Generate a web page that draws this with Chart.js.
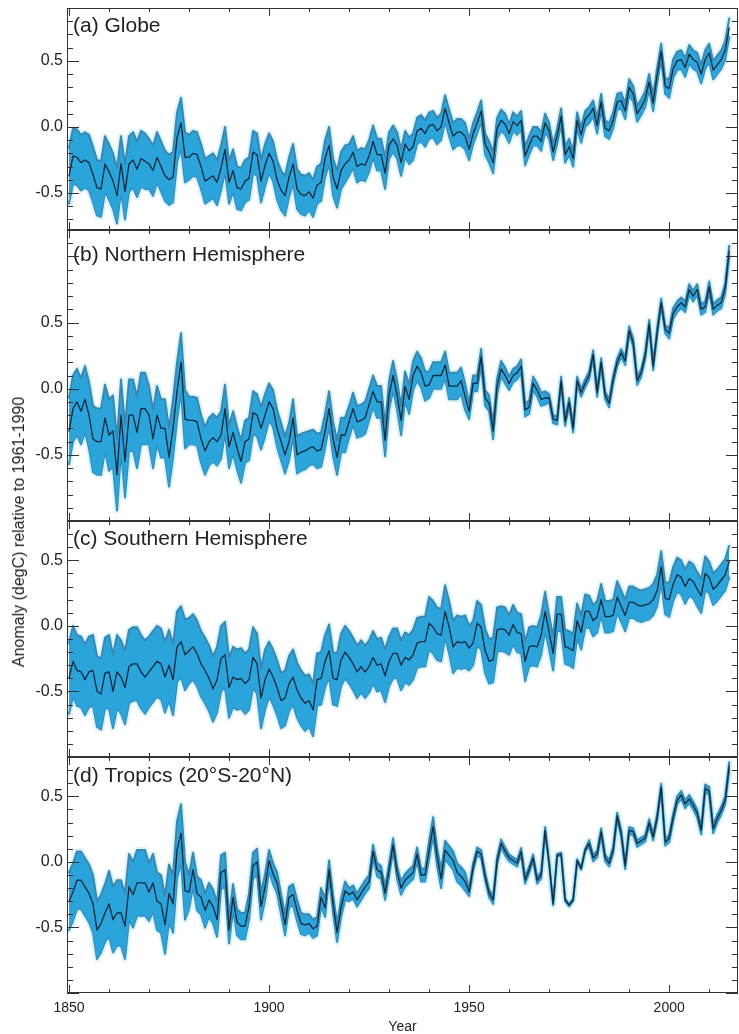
<!DOCTYPE html>
<html>
<head>
<meta charset="utf-8">
<script src="https://cdn.jsdelivr.net/npm/chart.js@4.4.0/dist/chart.umd.min.js"></script>
<style>
  body { margin: 0; background: #fff; }
  #wrap { position: relative; width: 739px; height: 1034px; }
  #wrap canvas { position: absolute; left: 0; }
  #ytitle {
    position: absolute; left: 19px; top: 532px;
    transform: translate(-50%, -50%) rotate(-90deg);
    white-space: nowrap; color: #222;
    font: 16px "Liberation Sans", Arial, Helvetica, sans-serif;
  }
</style>
</head>
<body>
<div id="wrap">
  <canvas id="pa" width="739" height="230" style="top:0px"></canvas>
  <canvas id="pb" width="739" height="291" style="top:230px"></canvas>
  <canvas id="pc" width="739" height="236" style="top:521px"></canvas>
  <canvas id="pd" width="739" height="277" style="top:757px"></canvas>
  <div id="ytitle">Anomaly (degC) relative to 1961-1990</div>
</div>
<script>
// Anual 1850-2015
const years = [];
for (let yr = 1850; yr <= 2015; yr++) years.push(yr);

// (a) Globe
const globe = [
  -0.37, -0.22, -0.23, -0.27, -0.25, -0.27, -0.36, -0.46, -0.47, -0.28,
  -0.34, -0.41, -0.52, -0.28, -0.49, -0.28, -0.25, -0.32, -0.24, -0.26,
  -0.28, -0.33, -0.23, -0.30, -0.37, -0.40, -0.38, -0.08, 0.03, -0.23,
  -0.23, -0.20, -0.21, -0.30, -0.41, -0.39, -0.37, -0.42, -0.31, -0.17,
  -0.42, -0.33, -0.46, -0.47, -0.41, -0.39, -0.19, -0.21, -0.41, -0.29,
  -0.20, -0.26, -0.40, -0.48, -0.52, -0.38, -0.28, -0.47, -0.51, -0.52,
  -0.49, -0.54, -0.44, -0.42, -0.24, -0.14, -0.38, -0.47, -0.33, -0.28,
  -0.25, -0.19, -0.30, -0.28, -0.29, -0.22, -0.11, -0.21, -0.21, -0.35,
  -0.14, -0.09, -0.14, -0.27, -0.13, -0.18, -0.15, -0.03, -0.01, -0.05,
  0.01, 0.02, -0.03, 0.00, 0.14, 0.03, -0.07, -0.04, -0.04, -0.07,
  -0.17, -0.05, 0.03, 0.12, -0.13, -0.19, -0.27, -0.01, 0.05, 0.02,
  -0.05, 0.04, 0.01, 0.05, -0.22, -0.14, -0.07, -0.07, -0.11, 0.03,
  -0.03, -0.19, -0.07, 0.08, -0.21, -0.15, -0.24, 0.05, -0.06, 0.06,
  0.09, 0.14, 0.01, 0.19, -0.01, -0.03, 0.05, 0.19, 0.20, 0.12,
  0.30, 0.25, 0.10, 0.15, 0.21, 0.34, 0.18, 0.39, 0.57, 0.31,
  0.29, 0.44, 0.50, 0.51, 0.45, 0.55, 0.51, 0.49, 0.40, 0.51,
  0.56, 0.43, 0.47, 0.51, 0.58, 0.75
];

// (b) Northern Hemisphere
const north = [
  -0.32, -0.15, -0.10, -0.17, -0.08, -0.20, -0.38, -0.40, -0.40, -0.22,
  -0.35, -0.32, -0.65, -0.20, -0.55, -0.20, -0.20, -0.33, -0.15, -0.15,
  -0.20, -0.38, -0.20, -0.30, -0.30, -0.52, -0.30, -0.02, 0.20, -0.23,
  -0.24, -0.24, -0.25, -0.38, -0.47, -0.40, -0.37, -0.40, -0.35, -0.15,
  -0.44, -0.33, -0.45, -0.55, -0.40, -0.38, -0.18, -0.20, -0.30, -0.20,
  -0.10, -0.15, -0.30, -0.40, -0.50, -0.40, -0.22, -0.50, -0.48, -0.47,
  -0.45, -0.44, -0.47, -0.46, -0.32, -0.15, -0.38, -0.52, -0.35, -0.35,
  -0.25, -0.15, -0.25, -0.24, -0.22, -0.12, -0.02, -0.10, -0.10, -0.39,
  -0.05, 0.10, -0.05, -0.24, 0.02, -0.08, 0.10, 0.17, 0.12, 0.02,
  0.03, 0.10, 0.10, 0.10, 0.18, 0.02, 0.02, 0.02, 0.06, -0.06,
  -0.17, 0.04, 0.04, 0.24, -0.07, -0.11, -0.32, 0.02, 0.15, 0.10,
  0.04, 0.10, 0.12, 0.17, -0.16, -0.14, 0.04, -0.01, -0.08, -0.07,
  -0.07, -0.23, -0.24, 0.06, -0.25, -0.10, -0.30, 0.06, -0.03, 0.04,
  0.10, 0.26, -0.03, 0.20, -0.05, -0.11, 0.07, 0.20, 0.27, 0.21,
  0.44, 0.35, 0.06, 0.12, 0.25, 0.49, 0.17, 0.43, 0.65, 0.45,
  0.42, 0.57, 0.62, 0.65, 0.62, 0.75, 0.70, 0.75, 0.60, 0.62,
  0.77, 0.60, 0.63, 0.65, 0.76, 1.04
];

// (c) Southern Hemisphere
const south = [
  -0.40, -0.27, -0.34, -0.35, -0.41, -0.35, -0.34, -0.50, -0.52, -0.36,
  -0.35, -0.50, -0.35, -0.39, -0.47, -0.31, -0.29, -0.29, -0.35, -0.39,
  -0.35, -0.31, -0.27, -0.29, -0.39, -0.30, -0.41, -0.16, -0.12, -0.22,
  -0.19, -0.16, -0.21, -0.29, -0.34, -0.40, -0.48, -0.41, -0.25, -0.22,
  -0.47, -0.39, -0.41, -0.40, -0.44, -0.41, -0.24, -0.29, -0.55, -0.41,
  -0.33, -0.39, -0.47, -0.57, -0.55, -0.44, -0.39, -0.49, -0.55, -0.59,
  -0.57, -0.64, -0.41, -0.40, -0.27, -0.19, -0.40, -0.41, -0.26, -0.20,
  -0.24, -0.29, -0.35, -0.31, -0.35, -0.31, -0.24, -0.30, -0.29, -0.38,
  -0.27, -0.21, -0.21, -0.30, -0.24, -0.26, -0.22, -0.13, -0.12, -0.12,
  0.02, -0.01, -0.06, -0.07, 0.11, -0.01, -0.16, -0.12, -0.13, -0.12,
  -0.17, -0.13, 0.02, -0.01, -0.19, -0.27, -0.26, -0.03, -0.02, -0.03,
  -0.07, 0.01, -0.05, -0.06, -0.27, -0.16, -0.15, -0.16, -0.07, 0.11,
  -0.05, -0.21, 0.09, 0.09, -0.16, -0.17, -0.19, 0.04, -0.05, 0.11,
  0.11, 0.04, 0.07, 0.20, 0.07, 0.07, 0.08, 0.22, 0.15, 0.08,
  0.18, 0.18, 0.16, 0.15, 0.16, 0.17, 0.20, 0.27, 0.45, 0.21,
  0.20, 0.32, 0.39, 0.37, 0.30, 0.36, 0.34, 0.28, 0.23, 0.40,
  0.37, 0.28, 0.31, 0.35, 0.39, 0.49
];

// (d) Tropics 20S-20N
const tropics = [
  -0.30, -0.23, -0.14, -0.14, -0.19, -0.24, -0.32, -0.52, -0.47, -0.39,
  -0.32, -0.44, -0.39, -0.39, -0.49, -0.19, -0.25, -0.16, -0.16, -0.16,
  -0.23, -0.16, -0.30, -0.32, -0.48, -0.24, -0.32, 0.09, 0.22, -0.22,
  -0.23, -0.06, -0.24, -0.27, -0.37, -0.29, -0.34, -0.44, -0.08, -0.06,
  -0.52, -0.27, -0.46, -0.49, -0.49, -0.34, -0.03, 0.00, -0.34, -0.19,
  0.01, -0.09, -0.16, -0.32, -0.48, -0.27, -0.25, -0.37, -0.47, -0.48,
  -0.47, -0.51, -0.49, -0.27, -0.35, -0.06, -0.32, -0.54, -0.35, -0.22,
  -0.25, -0.23, -0.29, -0.24, -0.19, -0.15, 0.08, -0.06, -0.08, -0.24,
  -0.06, 0.13, -0.08, -0.20, -0.14, -0.11, -0.08, 0.06, -0.10, -0.10,
  0.09, 0.27, 0.04, -0.13, 0.09, 0.05, 0.01, -0.08, -0.11, -0.15,
  -0.23, -0.04, 0.08, 0.06, -0.11, -0.24, -0.29, 0.01, 0.14, 0.08,
  0.03, 0.01, -0.01, 0.08, -0.14, -0.06, 0.03, -0.14, -0.10, 0.24,
  -0.01, -0.32, 0.05, 0.06, -0.29, -0.33, -0.29, 0.01, -0.05, 0.09,
  0.14, 0.03, 0.06, 0.23, 0.03, -0.01, 0.09, 0.35, 0.22, -0.03,
  0.24, 0.23, 0.14, 0.16, 0.18, 0.30, 0.19, 0.34, 0.57, 0.15,
  0.18, 0.34, 0.47, 0.51, 0.44, 0.48, 0.43, 0.37, 0.24, 0.56,
  0.54, 0.25, 0.33, 0.39, 0.47, 0.73
];

// meia largura da faixa de incerteza, por década (1850s ... 2010s)
const globeHalf   = [0.21, 0.21, 0.19, 0.17, 0.16, 0.15, 0.14, 0.12, 0.10, 0.10, 0.08, 0.07, 0.06, 0.06, 0.06, 0.07, 0.07];
const northHalf   = [0.25, 0.27, 0.22, 0.18, 0.16, 0.14, 0.13, 0.12, 0.11, 0.10, 0.06, 0.05, 0.03, 0.03, 0.03, 0.04, 0.04];
const southHalf   = [0.27, 0.28, 0.27, 0.25, 0.23, 0.21, 0.20, 0.20, 0.19, 0.20, 0.17, 0.15, 0.13, 0.12, 0.12, 0.13, 0.12];
const tropicsHalf = [0.22, 0.25, 0.22, 0.13, 0.10, 0.08, 0.07, 0.05, 0.05, 0.07, 0.03, 0.025, 0.01, 0.025, 0.025, 0.03, 0.03];

const yTickLabels = ['-0.5', '0.0', '0.5'];

Chart.defaults.font.family = '"Liberation Sans", Arial, Helvetica, sans-serif';
Chart.defaults.color = '#222';

// moldura, ticks para dentro e titulo do painel
const framePlugin = {
  id: 'frame',
  afterDraw(chart, args, opts) {
    const { ctx, chartArea: a } = chart;
    const x = chart.scales.x, y = chart.scales.y;
    ctx.save();
    ctx.strokeStyle = '#333';
    ctx.lineWidth = 1;
    ctx.strokeRect(a.left + 0.5, a.top + 0.5, a.right - a.left - 1, a.bottom - a.top - 1);
    ctx.beginPath();
    for (let yr = 1850; yr <= 2010; yr += 10) {
      const px = Math.round(x.getPixelForValue(yr)) + 0.5;
      const len = yr % 50 === 0 ? 8 : 4;
      ctx.moveTo(px, a.bottom); ctx.lineTo(px, a.bottom - len);
      ctx.moveTo(px, a.top); ctx.lineTo(px, a.top + len);
    }
    for (let k = Math.ceil(y.min * 10); k <= Math.floor(y.max * 10); k++) {
      const py = Math.round(y.getPixelForValue(k / 10)) + 0.5;
      const len = k % 5 === 0 ? 12 : 6;
      ctx.moveTo(a.left, py); ctx.lineTo(a.left + len, py);
      ctx.moveTo(a.right, py); ctx.lineTo(a.right - len, py);
    }
    ctx.stroke();
    ctx.fillStyle = '#222';
    ctx.font = '21px "Liberation Sans", Arial, Helvetica, sans-serif';
    ctx.textBaseline = 'alphabetic';
    ctx.fillText(opts.text, a.left + 6, a.top + opts.offset);
    ctx.restore();
  }
};

function makePanel(id, series, half, min, max, title, offset, showX, padTop) {
  const upper = series.map((v, i) => ({ x: years[i], y: v + half[Math.floor(i / 10)] }));
  const lower = series.map((v, i) => ({ x: years[i], y: v - half[Math.floor(i / 10)] }));
  const mean = series.map((v, i) => ({ x: years[i], y: v }));
  const glow = 'rgba(130, 215, 242, 0.3)';
  const common = { pointRadius: 0, borderJoinStyle: 'round', borderCapStyle: 'round' };

  new Chart(document.getElementById(id), {
    type: 'line',
    data: {
      datasets: [
        { ...common, data: mean, borderColor: '#0e2a3d', borderWidth: 1.3, fill: false, order: 0 },
        { ...common, data: upper, borderColor: '#3a88b2', borderWidth: 2, backgroundColor: '#2ba4dc', fill: '+1', order: 1 },
        { ...common, data: lower, borderColor: '#3a88b2', borderWidth: 2, fill: false, order: 2 },
        // halo claro em volta da faixa
        { ...common, data: upper, borderColor: glow, borderWidth: 6, fill: false, order: 3 },
        { ...common, data: lower, borderColor: glow, borderWidth: 6, fill: false, order: 4 }
      ]
    },
    options: {
      responsive: false,
      animation: false,
      layout: { padding: { top: padTop, right: 1, left: 0, bottom: 0 } },
      plugins: {
        legend: { display: false },
        tooltip: { enabled: false },
        frame: { text: title, offset: offset }
      },
      scales: {
        x: {
          type: 'linear',
          min: 1849.5,
          max: 2017.2,
          grid: { display: false, drawTicks: false },
          border: { display: false },
          ticks: {
            display: showX,
            stepSize: 50,
            includeBounds: false,
            autoSkip: false,
            maxRotation: 0,
            padding: 7,
            color: '#222',
            font: { size: 14 },
            callback: v => String(v)
          },
          title: { display: showX, text: 'Year', color: '#222', padding: 0, font: { size: 14, lineHeight: 1 } },
          afterFit: s => { s.height = showX ? 41 : 0; s.paddingLeft = 0; s.paddingRight = 0; }
        },
        y: {
          min: min,
          max: max,
          grid: { display: false, drawTicks: false },
          border: { display: false },
          ticks: {
            stepSize: 0.5,
            includeBounds: false,
            padding: 4,
            color: '#222',
            font: { size: 16 },
            callback: v => {
              const s = Math.abs(v) < 1e-9 ? '0.0' : v.toFixed(1);
              return yTickLabels.includes(s) ? s : null;
            }
          },
          afterFit: s => { s.width = 67; s.paddingTop = 0; s.paddingBottom = 0; }
        }
      }
    },
    plugins: [framePlugin]
  });
}

makePanel('pa', globe,   globeHalf,   -0.78, 0.9, '(a) Globe', 24, false, 8);
makePanel('pb', north,   northHalf,   -1.0,  1.2, '(b) Northern Hemisphere', 31, false, 0);
makePanel('pc', south,   southHalf,   -1.0,  0.8, '(c) Southern Hemisphere', 24, false, 0);
makePanel('pd', tropics, tropicsHalf, -1.0,  0.8, '(d) Tropics (20°S-20°N)', 25, true, 0);
</script>
</body>
</html>
